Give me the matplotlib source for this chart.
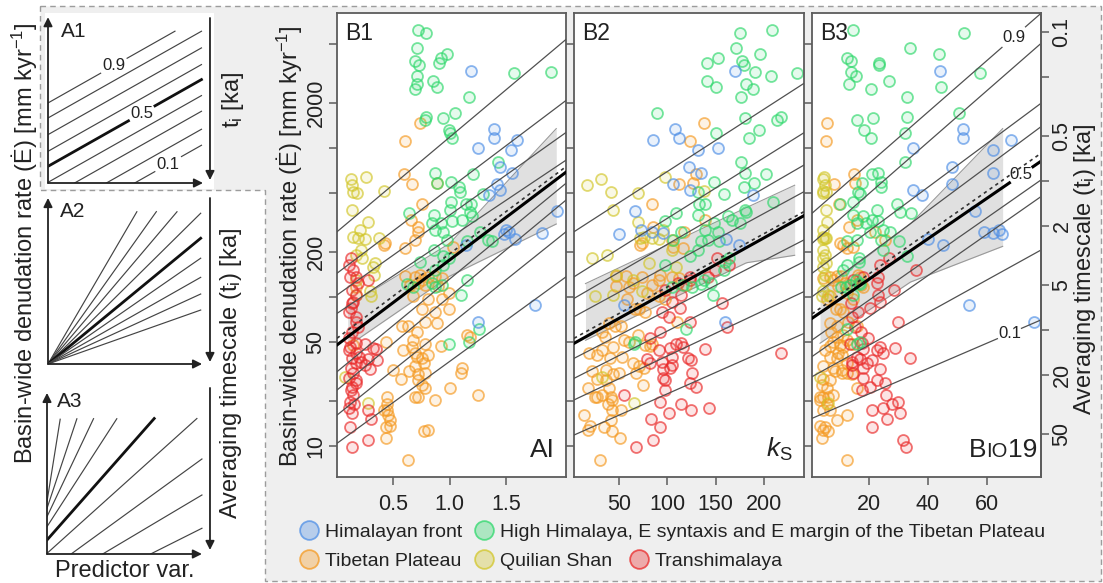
import numpy as np
import matplotlib
matplotlib.use("Agg")
import matplotlib.pyplot as plt
from matplotlib.colors import to_rgba
from matplotlib.lines import Line2D
from matplotlib.patches import Polygon, Rectangle
from matplotlib.ticker import NullLocator
from matplotlib.offsetbox import HPacker, TextArea, AnchoredOffsetbox

plt.rcParams['font.family'] = ['Liberation Sans', 'DejaVu Sans']
plt.rcParams['mathtext.fontset'] = 'custom'
plt.rcParams['mathtext.rm'] = 'Liberation Sans'
plt.rcParams['mathtext.it'] = 'Liberation Sans:italic'

# ------------------------------------------------------------------ data
# denudation rate E [mm/kyr] and the three predictors for every basin
hf_E = [3300, 1340, 1170, 1140, 1000, 970, 750, 680, 570, 520, 480, 380, 280, 275, 270, 265, 244, 223, 89, 68]
hf_ai = [1.19, 1.39, 1.39, 1.59, 1.25, 1.54, 1.44, 1.55, 1.42, 1.44, 1.35, 1.95, 1.50, 1.52, 1.81, 1.48, 1.58, 1.14, 1.75, 1.25]
hf_ks = [170, 108, 112, 85, 152, 132, 122, 135, 106, 123, 189, 66, 73, 84, 95, 50, 161, 174, 55, 160]
hf_bio = [44, 52, 52, 68, 35, 62, 48, 62, 48, 35, 38, 56, 64, 59, 62, 65, 40, 45, 54, 76]

hh_E = [6200, 5900, 4700, 4300, 4000, 3860, 3740, 3600, 3250, 3200, 3040, 2830, 2690, 2555, 2480, 2190,
        1710, 1620, 1580, 1540, 1330, 1270, 1170, 810, 680, 670, 595, 580, 550, 510, 490, 435, 420, 420,
        384, 374, 365, 355, 350, 325, 329, 312, 312, 282, 274, 274, 241, 239, 241, 239, 207, 188, 182,
        173, 164, 152, 131, 124, 120, 117, 117, 122, 103, 60.7, 50.1, 48.1]
hh_ai = [0.72, 0.79, 0.71, 0.98, 0.92, 0.69, 0.91, 0.73, 1.89, 1.57, 0.71, 0.85, 0.71, 0.89, 0.69, 1.17,
         1.05, 0.79, 0.94, 0.78, 0.99, 1.00, 1.02, 1.43, 0.87, 1.21, 1.01, 0.89, 1.08, 1.09, 1.29, 1.01,
         1.14, 1.19, 1.00, 1.18, 0.64, 0.86, 1.20, 1.02, 1.11, 0.84, 0.92, 0.87, 0.94, 1.27, 0.98, 1.15,
         1.34, 1.37, 0.86, 0.94, 0.99, 0.74, 0.94, 0.87, 1.15, 0.84, 0.93, 0.87, 0.68, 0.62, 1.10, 1.26,
         1.17, 0.99]
hh_ks = [208, 175, 171, 196, 153, 177, 141, 179, 191, 234, 207, 141, 182, 150, 189, 176, 89, 218, 180, 214,
         195, 150, 185, 176, 181, 202, 148, 190, 179, 132, 159, 210, 133, 139, 180, 182, 109, 132, 163, 97,
         167, 148, 175, 139, 114, 152, 106, 135, 142, 154, 132, 123, 164, 160, 98, 159, 138, 145, 116, 105,
         126, 135, 147, 119, 66, 65]
hh_bio = [14.5, 52.2, 33.9, 43.8, 12.7, 13.8, 23.5, 23.5, 13.8, 57.6, 15.6, 26.9, 13.3, 44.3, 20.6, 33.0,
          50.6, 33.0, 21.5, 16.0, 18.3, 32.2, 20.6, 32.2, 23.1, 21.0, 24.0, 17.6, 24.0, 16.4, 16.9, 14.7,
          29.4, 10.2, 22.6, 30.5, 34.1, 14.7, 18.1, 23.2, 20.9, 15.8, 19.0, 24.6, 27.1, 20.3, 15.8, 12.7,
          24.0, 30.3, 24.6, 32.8, 16.7, 16.7, 12.4, 11.3, 15.6, 16.7, 13.6, 10.4, 12.2, 16.9, 14.7, 12.4,
          16.9, 16.0]

tp_E = [1480, 1120, 670, 585, 573, 421, 329, 294, 274, 241, 232, 223, 218, 212, 141, 138, 137, 136, 139, 135,
        130, 124, 120, 121, 119, 117, 106, 101, 96.5, 97, 82.6, 83, 79.7, 68.3, 66.5, 63.8, 64, 58.5, 55.6,
        54.2, 51.4, 50.1, 48.4, 47.6, 46.4, 46.6, 44.1, 42.3, 40.8, 39.8, 38.8, 35.9, 34.5, 33.2, 32.4, 32.0,
        31.1, 30.7, 30.4, 28.0, 27.7, 25.6, 24.4, 24.5, 22.0, 21.4, 21.5, 21.2, 20.4, 19.3, 17.4, 17.5, 16.2,
        14.9, 13.5, 13.6, 12.8, 12.7, 11.4, 8.1]
tp_ai = [0.74, 0.61, 0.60, 0.89, 0.67, 0.76, 0.66, 0.72, 0.72, 0.69, 0.43, 0.42, 1.03, 0.61, 0.74, 0.61,
         0.69, 0.81, 0.87, 0.93, 0.76, 0.72, 0.65, 0.78, 0.90, 0.17, 0.99, 0.68, 0.81, 0.93, 0.76, 0.99,
         0.87, 0.78, 0.89, 0.58, 0.63, 0.71, 1.15, 1.18, 0.68, 0.44, 0.78, 0.15, 0.67, 0.92, 0.59, 0.69,
         0.81, 0.71, 0.76, 0.77, 0.69, 1.11, 0.50, 0.64, 0.78, 1.10, 0.72, 0.57, 0.72, 0.76, 0.78, 1.00,
         1.25, 0.69, 0.72, 0.45, 0.87, 0.45, 0.42, 0.45, 0.46, 0.47, 0.44, 0.47, 0.81, 0.77, 0.44, 0.63]
tp_ks = [138, 123, 130, 127, 112, 84, 139, 85, 117, 105, 74, 72, 106, 116, 92, 47, 74, 105, 57, 112,
         91, 64, 119, 84, 47, 60, 79, 91, 97, 58, 66, 71, 77, 110, 39, 46, 52, 32, 69, 35,
         55, 60, 84, 77, 44, 82, 32, 19, 27, 53, 40, 64, 71, 76, 36, 22, 67, 50, 44, 27,
         36, 75, 39, 18, 32, 25, 42, 27, 43, 38, 43, 52, 13, 41, 34, 20, 18, 43, 51, 30]
tp_bio = [5.7, 5.4, 14.9, 15.4, 8.1, 9.9, 15.8, 13.3, 22.0, 25.4, 10.2, 11.3, 14.7, 12.7, 16.4, 9.0, 6.8,
          16.9, 10.4, 4.5, 7.9, 11.9, 13.6, 17.2, 9.6, 17.9, 12.7, 6.8, 14.7, 5.7, 8.8, 10.2, 11.3, 13.0,
          6.8, 9.0, 15.8, 7.0, 11.3, 9.0, 12.4, 7.9, 14.7, 10.2, 11.3, 6.8, 5.1, 9.6, 10.7, 6.8, 9.0, 12.4,
          4.5, 7.9, 10.7, 8.5, 10.7, 12.4, 14.1, 4.5, 6.8, 4.0, 5.7, 15.8, 7.9, 3.4, 6.2, 4.5, 3.4, 5.7,
          6.8, 4.5, 12.7, 9.0, 5.1, 3.4, 4.5, 6.2, 4.0, 12.7]

qs_E = [642, 617, 565, 515, 509, 496, 384, 321, 282, 254, 248, 246, 250, 207, 191, 182, 170, 160, 141,
        130, 109, 101, 103, 29.2, 19.5]
qs_ai = [0.26, 0.13, 0.14, 0.42, 0.15, 0.18, 0.14, 0.28, 0.21, 0.15, 0.19, 0.25, 0.38, 0.22, 0.17, 0.23,
         0.34, 0.32, 0.33, 0.17, 0.30, 0.31, 0.17, 0.08, 0.28]
qs_ks = [97, 31, 17, 138, 41, 69, 44, 70, 95, 76, 72, 91, 84, 105, 37, 22, 81, 109, 47, 64, 74, 25, 44, 32, 65]
qs_bio = [4.8, 4.5, 5.1, 4.5, 5.4, 4.5, 5.4, 5.7, 4.5, 4.5, 5.1, 4.5, 5.4, 4.5, 5.1, 4.5, 5.4, 4.5, 5.1,
          4.8, 4.5, 4.0, 6.2, 3.4, 6.2]

th_E = [182, 164, 152, 137, 136, 130, 124, 111, 103, 93, 90.6, 83.9, 79.7, 73.8, 68.3, 63.2, 58.5, 52.8,
        48.9, 48.5, 46.4, 45.2, 44.5, 44.1, 41.9, 39.8, 38.8, 38.6, 37.8, 36.8, 35.9, 35.0, 33.2, 33.0,
        30.7, 28.5, 27.7, 26.4, 25.0, 23.8, 22.0, 19.9, 19.3, 17.9, 17.4, 16.6, 15.3, 13.5, 11.0, 9.9]
th_ai = [0.13, 0.11, 0.15, 0.17, 0.12, 0.28, 0.19, 0.14, 0.17, 0.15, 0.14, 0.13, 0.11, 0.17, 0.17, 0.19,
         0.14, 0.11, 0.17, 0.25, 0.12, 0.32, 0.35, 0.11, 0.17, 0.20, 0.14, 0.28, 0.36, 0.22, 0.17, 0.25,
         0.13, 0.30, 0.15, 0.11, 0.17, 0.17, 0.14, 0.13, 0.15, 0.12, 0.16, 0.11, 0.28, 0.14, 0.31, 0.12,
         0.28, 0.14]
th_ks = [151, 164, 149, 142, 123, 123, 111, 98, 114, 105, 157, 113, 94, 102, 123, 162, 92, 82, 114, 109,
         116, 103, 139, 91, 218, 105, 121, 79, 124, 94, 82, 105, 103, 95, 126, 95, 98, 123, 130, 97,
         55, 92, 114, 143, 124, 102, 83, 92, 85, 67]
th_bio = [26.9, 23.7, 35.9, 23.2, 18.1, 14.7, 22.6, 28.5, 23.2, 23.7, 13.8, 20.3, 16.4, 14.1, 29.9, 15.3,
          17.2, 19.8, 17.5, 13.6, 23.7, 28.8, 18.1, 22.6, 24.9, 15.8, 33.9, 16.9, 20.9, 14.1, 19.2, 14.1,
          18.1, 23.7, 14.7, 18.1, 22.6, 25.4, 20.3, 17.5, 25.8, 29.9, 27.7, 24.6, 20.9, 30.5, 26.0, 20.9,
          31.4, 32.5]

# quantile regressions log10(E) = a + b * x, tau = 0.9 ... 0.1 (0.5 drawn thick)
tau = [0.9, 0.8, 0.7, 0.6, 0.5, 0.4, 0.3, 0.2, 0.1]
b1_a = [2.434, 2.156, 2.010, 1.887, 1.675, 1.495, 1.372, 1.204, 1.015]
b1_b = [0.639, 0.574, 0.540, 0.509, 0.574, 0.626, 0.631, 0.609, 0.553]
b2_a = [2.425, 2.123, 1.979, 1.857, 1.678, 1.578, 1.444, 1.300, 1.065]
b2_b = [0.004174, 0.004053, 0.003751, 0.003516, 0.003592, 0.003332, 0.003282, 0.003047, 0.002858]
b3_a = [2.550, 2.348, 2.149, 1.992, 1.848, 1.702, 1.591, 1.458, 1.180]
b3_b = [0.01729, 0.01729, 0.01470, 0.01470, 0.01358, 0.01384, 0.01383, 0.01095, 0.00851]
# least squares fit (dotted)
b1_ols = [1.720, 0.570]
b2_ols = [1.712, 0.003562]
b3_ols = [1.877, 0.01389]
# confidence band, log10(E)
b1_band_x, b1_band_lo, b1_band_hi = [0.10, 1.0, 1.94], [1.67, 2.14, 2.49], [1.94, 2.36, 3.13]
b2_band_x, b2_band_lo, b2_band_hi = [15, 182, 232], [1.71, 2.23, 2.28], [2.09, 2.60, 2.75]
b3_band_x, b3_band_lo, b3_band_hi = [3.4, 34, 65.3], [1.69, 2.10, 2.34], [2.03, 2.49, 3.13]

# schematic panels A1-A3 (unit square), tau = 0.9 ... 0.1
a1_inter = [0.485, 0.394, 0.293, 0.192, 0.101, 0.004, -0.091, -0.200, -0.297]
a1_slope = [0.531] * 9
a2_inter = [0.0] * 9
a2_slope = [1.60, 1.313, 1.102, 0.922, 0.769, 0.647, 0.530, 0.428, 0.330]
a3_inter = [0.326, 0.284, 0.232, 0.170, 0.087, 0.004, -0.109, -0.206, -0.323]
a3_slope = [6.02, 2.89, 2.03, 1.49, 1.092, 0.867, 0.70, 0.573, 0.483]

y_ticks = [10, 20, 50, 100, 200, 500, 1000, 2000, 5000]
y_ticklabels = ['10', '', '50', '', '200', '', '', '2000', '']
t_ticks = [0.1, 0.2, 0.5, 1, 2, 5, 10, 20, 50]
t_ticklabels = ['0.1', '', '0.5', '', '2', '5', '', '20', '50']

groups = [
    ('Tibetan Plateau', '#f59a22', tp_E, dict(ai=tp_ai, ks=tp_ks, bio=tp_bio)),
    ('Quilian Shan', '#d2c62a', qs_E, dict(ai=qs_ai, ks=qs_ks, bio=qs_bio)),
    ('Transhimalaya', '#ea2a2a', th_E, dict(ai=th_ai, ks=th_ks, bio=th_bio)),
    ('High Himalaya, E syntaxis and E margin of the Tibetan Plateau', '#2fd86c', hh_E,
     dict(ai=hh_ai, ks=hh_ks, bio=hh_bio)),
    ('Himalayan front', '#4f8fe6', hf_E, dict(ai=hf_ai, ks=hf_ks, bio=hf_bio)),
]

INK = '#222222'
FRAME = '#5c5c5c'
W, H = 1103, 583

fig = plt.figure(figsize=(W / 100, H / 100), dpi=100)


def fx(x):
    return x / W


def fy(y):
    return 1 - y / H


def px_box(l, t, r, b):
    return [fx(l), fy(b), (r - l) / W, (b - t) / H]


# grey dashed frame behind A1 and the B panels
outline = [(40, 6), (1101, 6), (1101, 581), (265, 581), (265, 190), (40, 190)]
fig.patches.append(Polygon([(fx(x), fy(y)) for x, y in outline], closed=True,
                           transform=fig.transFigure, facecolor='#efefef',
                           edgecolor='#9c9c9c', lw=1.0, ls=(0, (4, 3)), zorder=-2))
fig.patches.append(Rectangle((fx(45), fy(189)), 169 / W, 176 / H, transform=fig.transFigure,
                             facecolor='white', edgecolor='none', zorder=-1))


def arrow(ax, p0, p1):
    ax.annotate('', xy=p1, xytext=p0,
                arrowprops=dict(arrowstyle='-|>', color=INK, lw=1.3, mutation_scale=13,
                                shrinkA=0, shrinkB=0),
                annotation_clip=False)


def schematic(box, xlim, ylim, slopes, inters, xend, ytop, arrows, tag, tag_xy, labels=None):
    ax = fig.add_axes(px_box(*box))
    ax.set_xlim(*xlim)
    ax.set_ylim(*ylim)
    ax.axis('off')
    xx = np.linspace(0, xend, 800)
    for i, (b, a) in enumerate(zip(slopes, inters)):
        yy = a + b * xx
        yy = np.where((yy >= 0) & (yy <= ytop), yy, np.nan)
        if labels and i in labels:
            xl, txt = labels[i]
            yy = np.where(np.abs(xx - xl) < 0.085, np.nan, yy)
            ax.text(xl, a + b * xl, txt, ha='center', va='center', fontsize=12, color=INK)
        ax.plot(xx, yy, color='#111111' if i == 4 else '#444444', lw=2.0 if i == 4 else 0.85)
    for p0, p1 in arrows:
        arrow(ax, p0, p1)
    fig.text(fx(tag_xy[0]), fy(tag_xy[1]), tag, ha='left', va='baseline', fontsize=15, color=INK)
    return ax


schematic((48, 16, 212, 183), (0, 1.058), (0, 1.012), a1_slope, a1_inter, 0.99, 0.92,
          [((0, 0), (0, 1.005)), ((0, 0), (1.0, 0)), ((1.045, 1.0), (1.045, 0.018))],
          'A1', (61, 37), labels={0: (0.425, '0.9'), 4: (0.605, '0.5'), 8: (0.775, '0.1')})
schematic((48, 196, 212, 364), (0, 1.058), (0, 1.012), a2_slope, a2_inter, 0.985, 0.918,
          [((0, 0), (0, 1.0)), ((0, 0), (0.994, 0)), ((1.045, 1.0), (1.045, 0.012))],
          'A2', (60, 217))
schematic((47, 386, 212, 554), (0, 1.065), (0, 1.045), a3_slope, a3_inter, 1.0, 0.843,
          [((0, 0), (0, 1.002)), ((0, 0), (1.0, 0)), ((1.052, 1.033), (1.052, 0.025))],
          'A3', (57, 407))

panels = [
    dict(key='ai', box=(337, 13, 566, 477), xlim=(0.006, 2.026), xticks=[0.5, 1.0, 1.5],
         xticklabels=['0.5', '1.0', '1.5'], a=b1_a, b=b1_b, ols=b1_ols,
         band=(b1_band_x, b1_band_lo, b1_band_hi), tag='B1'),
    dict(key='ks', box=(574, 13, 804, 477), xlim=(3.1, 241.7), xticks=[50, 100, 150, 200],
         xticklabels=['50', '100', '150', '200'], a=b2_a, b=b2_b, ols=b2_ols,
         band=(b2_band_x, b2_band_lo, b2_band_hi), tag='B2'),
    dict(key='bio', box=(812, 13, 1041, 477), xlim=(0.68, 78.3), xticks=[20, 40, 60],
         xticklabels=['20', '40', '60'], a=b3_a, b=b3_b, ols=b3_ols,
         band=(b3_band_x, b3_band_lo, b3_band_hi), tag='B3',
         line_labels={0: 69.0, 4: 71.6, 8: 67.6}),
]

axes = []
for k, p in enumerate(panels):
    ax = fig.add_axes(px_box(*p['box']))
    axes.append(ax)
    ax.set_facecolor('white')
    ax.set_yscale('log')
    ax.set_xlim(*p['xlim'])
    ax.set_ylim(6.2, 8050)

    bx_pts, blo, bhi = p['band']
    bx = np.linspace(bx_pts[0], bx_pts[-1], 120)
    lo = 10 ** np.interp(bx, bx_pts, blo)
    hi = 10 ** np.interp(bx, bx_pts, bhi)
    ax.fill_between(bx, lo, hi, color='#e0e0e0', lw=0, zorder=1)
    ax.plot(bx, lo, color='#999999', lw=0.8, zorder=1.5)
    ax.plot(bx, hi, color='#999999', lw=0.8, zorder=1.5)

    for name, col, E, xd in groups:
        ax.scatter(xd[p['key']], E, s=62, facecolors=[to_rgba(col, 0.12)],
                   edgecolors=[to_rgba(col, 0.66)], linewidths=1.3, zorder=2)

    xx = np.linspace(p['xlim'][0], p['xlim'][1], 400)
    labs = p.get('line_labels', {})
    for i, t in enumerate(tau):
        yy = 10 ** (p['a'][i] + p['b'][i] * xx)
        if i in labs:
            xl = labs[i]
            yy = np.where(np.abs(xx - xl) < 3.9, np.nan, yy)
            ax.text(xl, 10 ** (p['a'][i] + p['b'][i] * xl), f'{t:.1f}', ha='center',
                    va='center', fontsize=12, color=INK, zorder=4)
        if i == 4:
            ax.plot(xx, yy, color='black', lw=2.2, zorder=3.5)
        else:
            ax.plot(xx, yy, color='#505050', lw=0.9, zorder=3)
    ax.plot(xx, 10 ** (p['ols'][0] + p['ols'][1] * xx), color='#333333', lw=1.2,
            ls=(0, (2, 2.2)), zorder=3.6)

    ax.set_yticks(y_ticks)
    ax.yaxis.set_minor_locator(NullLocator())
    ax.set_xticks(p['xticks'])
    ax.set_xticklabels(p['xticklabels'])
    ax.tick_params(axis='both', direction='out', length=6, width=1.1, color=FRAME,
                   labelsize=15.5, labelcolor=INK)
    ax.tick_params(axis='x', pad=6.5)
    ax.tick_params(axis='y', pad=1.5)
    if k == 0:
        ax.set_yticklabels(y_ticklabels)
        for lab in ax.get_yticklabels():
            lab.set_rotation(90)
            lab.set_va('center')
    else:
        ax.tick_params(axis='y', labelleft=False)
    for s in ax.spines.values():
        s.set_color(FRAME)
        s.set_linewidth(1.3)
    fig.text(fx(p['box'][0] + 8), fy(40), p['tag'], ha='left', va='baseline',
             fontsize=16.5, color=INK)

# right-hand averaging timescale axis (t = 600 / E)
axr = axes[2].twinx()
axr.set_yscale('log')
axr.set_ylim(600 / 6.2, 600 / 8050)
axr.set_yticks(t_ticks)
axr.set_yticklabels(t_ticklabels)
axr.yaxis.set_minor_locator(NullLocator())
axr.tick_params(axis='y', direction='out', length=6, width=1.1, color=FRAME,
                labelsize=15.5, labelcolor=INK, pad=1.5)
for lab in axr.get_yticklabels():
    lab.set_rotation(90)
    lab.set_va('center')
for name, s in axr.spines.items():
    s.set_visible(name == 'right')
    s.set_color(FRAME)
    s.set_linewidth(1.3)

# predictor names inside the panels
fig.text(fx(555), fy(457), 'AI', ha='right', va='baseline', fontsize=19, color=INK)
fig.text(fx(793), fy(457), r'$k_\mathregular{S}$', ha='right', va='baseline', fontsize=19, color=INK)
bio_lab = HPacker(children=[TextArea('B', textprops=dict(size=19, color=INK)),
                            TextArea('IO', textprops=dict(size=14.5, color=INK)),
                            TextArea('19', textprops=dict(size=19, color=INK))],
                  align='baseline', pad=0, sep=0)
axes[2].add_artist(AnchoredOffsetbox(loc='lower right', child=bio_lab, pad=0, borderpad=0,
                                     frameon=False, bbox_to_anchor=(fx(1037), fy(462)),
                                     bbox_transform=fig.transFigure))

# axis titles
ylab = r'Basin-wide denudation rate (Ė) [mm kyr$^{-1}$]'
fig.text(fx(25), fy(243), ylab, rotation=90, ha='center', va='center', fontsize=17, color=INK)
fig.text(fx(290), fy(246), ylab, rotation=90, ha='center', va='center', fontsize=17, color=INK)
tlab = r'Averaging timescale (t$_\mathregular{i}$) [ka]'
fig.text(fx(1085), fy(269), tlab, rotation=90, ha='center', va='center', fontsize=17, color=INK)
fig.text(fx(231), fy(373), tlab, rotation=90, ha='center', va='center', fontsize=17, color=INK)
fig.text(fx(233), fy(100), r't$_\mathregular{i}$ [ka]', rotation=90, ha='center', va='center',
         fontsize=17, color=INK)
fig.text(fx(125), fy(571), 'Predictor var.', ha='center', va='center', fontsize=17, color=INK)

# legend, two rows
legend_order = [4, 3, 0, 1, 2]
legend_pos = [(309, 532), (484, 532), (309, 561), (484, 561), (639, 561)]
for gi, (x, y) in zip(legend_order, legend_pos):
    name, col = groups[gi][0], groups[gi][1]
    h = Line2D([], [], ls='', marker='o', ms=13.5, mfc=to_rgba(col, 0.35),
               mec=to_rgba(col, 0.75), mew=1.3)
    fig.legend(handles=[h], labels=[name], loc='center left',
               bbox_to_anchor=(fx(x - 9.7), fy(y)), frameon=False, fontsize=14,
               handlelength=1.0, handletextpad=0.32, borderpad=0, borderaxespad=0,
               labelcolor=INK)

fig.savefig('out.png', dpi=100)
